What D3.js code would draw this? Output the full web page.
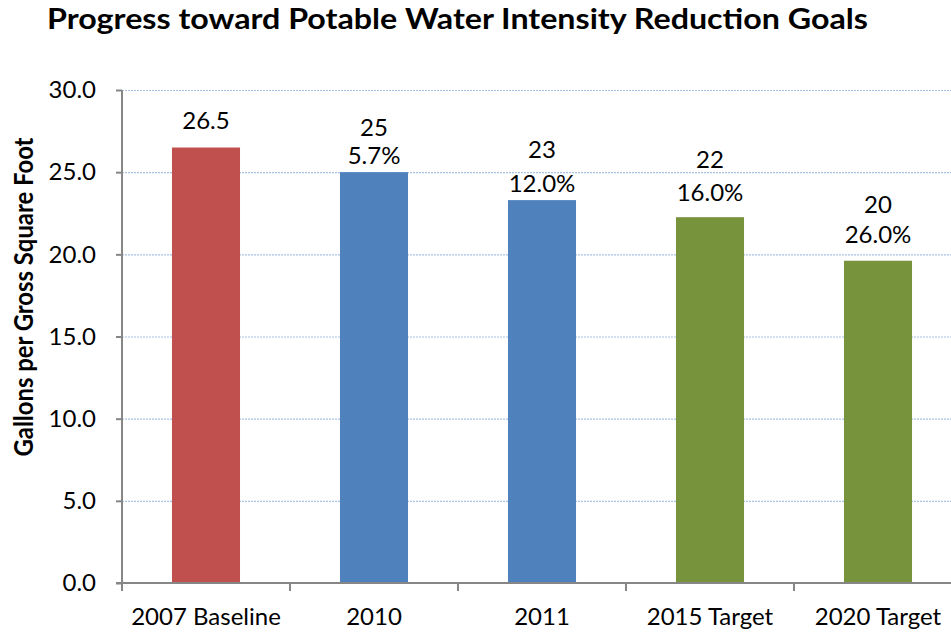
<!DOCTYPE html>
<html>
<head>
<meta charset="utf-8">
<script src="https://cdn.jsdelivr.net/npm/d3@7"></script>
<style>
  html, body { margin: 0; padding: 0; background: #fff; }
  svg { display: block; }
  text { font-family: Lato, "Open Sans", sans-serif; fill: #000; }
</style>
</head>
<body>
<svg id="chart" width="951" height="632"></svg>
<script>
// ---- data ----
const categories = ["2007 Baseline", "2010", "2011", "2015 Target", "2020 Target"];
const values = [26.5, 25.0, 23.3, 22.26, 19.61];
const valueLabels = ["26.5", "25", "23", "22", "20"];
const reductionLabels = ["", "5.7%", "12.0%", "16.0%", "26.0%"];
const barColors = ["#C0504D", "#4F81BD", "#4F81BD", "#77933C", "#77933C"];
const yTicks = [0, 5, 10, 15, 20, 25, 30];
const titleText = "Progress toward Potable Water Intensity Reduction Goals";
const yTitle = "Gallons per Gross Square Foot";

// ---- layout (styling, not data) ----
const pctGap = [19, 8, 8, 16, 18];      // gap between bar top and lowest label baseline
const lineGap = [0, 28, 34, 33, 30];    // gap between the two label lines
const FS = 24;

const svg = d3.select("#chart");
const mLeft = 122, mRight = 962, mTop = 90, mBottom = 583;

const x = d3.scaleBand().domain(categories).range([mLeft, mRight])
  .paddingInner(0.595).paddingOuter(0.2975);
const y = d3.scaleLinear().domain([0, 30]).range([mBottom, mTop]);
const step = x.step();

// title
svg.append("text")
  .attr("x", 457.5).attr("y", 29)
  .attr("text-anchor", "middle")
  .attr("font-weight", "bold").attr("font-size", 28)
  .attr("textLength", 821).attr("lengthAdjust", "spacingAndGlyphs")
  .text(titleText);

// gridlines
svg.append("g").selectAll("line").data(yTicks.filter(d => d > 0)).join("line")
  .attr("x1", mLeft).attr("x2", 951)
  .attr("y1", d => y(d) + 0.5).attr("y2", d => y(d) + 0.5)
  .attr("stroke", "#A7C2E4").attr("stroke-width", 1.2)
  .attr("stroke-dasharray", "2,1");

// bars
svg.append("g").selectAll("rect").data(categories).join("rect")
  .attr("x", d => x(d)).attr("width", x.bandwidth())
  .attr("y", (d, i) => y(values[i]))
  .attr("height", (d, i) => y(0) - y(values[i]))
  .attr("fill", (d, i) => barColors[i]);

// y axis
const yAxis = d3.axisLeft(y).tickValues(yTicks).tickFormat(d3.format(".1f"))
  .tickSize(6).tickPadding(20);
const gy = svg.append("g").attr("transform", `translate(${mLeft},0)`).call(yAxis);
gy.select(".domain").attr("stroke", "#868686").attr("stroke-width", 2)
  .attr("d", `M0,${mTop}V${mBottom}`);
gy.selectAll(".tick line").attr("stroke", "#868686").attr("stroke-width", 2);
gy.selectAll(".tick text").attr("font-size", FS).attr("font-family", "Lato, sans-serif")
  .attr("fill", "#000");

// x axis
svg.append("line").attr("x1", mLeft - 6).attr("x2", 951)
  .attr("y1", mBottom).attr("y2", mBottom)
  .attr("stroke", "#868686").attr("stroke-width", 2);
const boundaries = categories.map(d => x(d) + x.bandwidth() / 2 - step / 2);
boundaries.push(x(categories[categories.length - 1]) + x.bandwidth() / 2 + step / 2);
svg.append("g").selectAll("line").data(boundaries).join("line")
  .attr("x1", d => d).attr("x2", d => d)
  .attr("y1", mBottom).attr("y2", mBottom + 8)
  .attr("stroke", "#868686").attr("stroke-width", 2);
svg.append("g").selectAll("text").data(categories).join("text")
  .attr("x", d => x(d) + x.bandwidth() / 2).attr("y", 625)
  .attr("text-anchor", "middle").attr("font-size", FS)
  .text(d => d);

// y title
svg.append("text")
  .attr("transform", "translate(33,297) rotate(-90)")
  .attr("text-anchor", "middle").attr("font-weight", "bold").attr("font-size", 26)
  .attr("textLength", 319).attr("lengthAdjust", "spacingAndGlyphs")
  .text(yTitle);

// data labels
const lg = svg.append("g");
categories.forEach((c, i) => {
  const cx = x(c) + x.bandwidth() / 2;
  const base = y(values[i]) - pctGap[i];
  if (reductionLabels[i]) {
    lg.append("text").attr("x", cx).attr("y", base).attr("text-anchor", "middle")
      .attr("font-size", FS).text(reductionLabels[i]);
    lg.append("text").attr("x", cx).attr("y", base - lineGap[i]).attr("text-anchor", "middle")
      .attr("font-size", FS).text(valueLabels[i]);
  } else {
    lg.append("text").attr("x", cx).attr("y", base).attr("text-anchor", "middle")
      .attr("font-size", FS).text(valueLabels[i]);
  }
});
</script>
</body>
</html>
